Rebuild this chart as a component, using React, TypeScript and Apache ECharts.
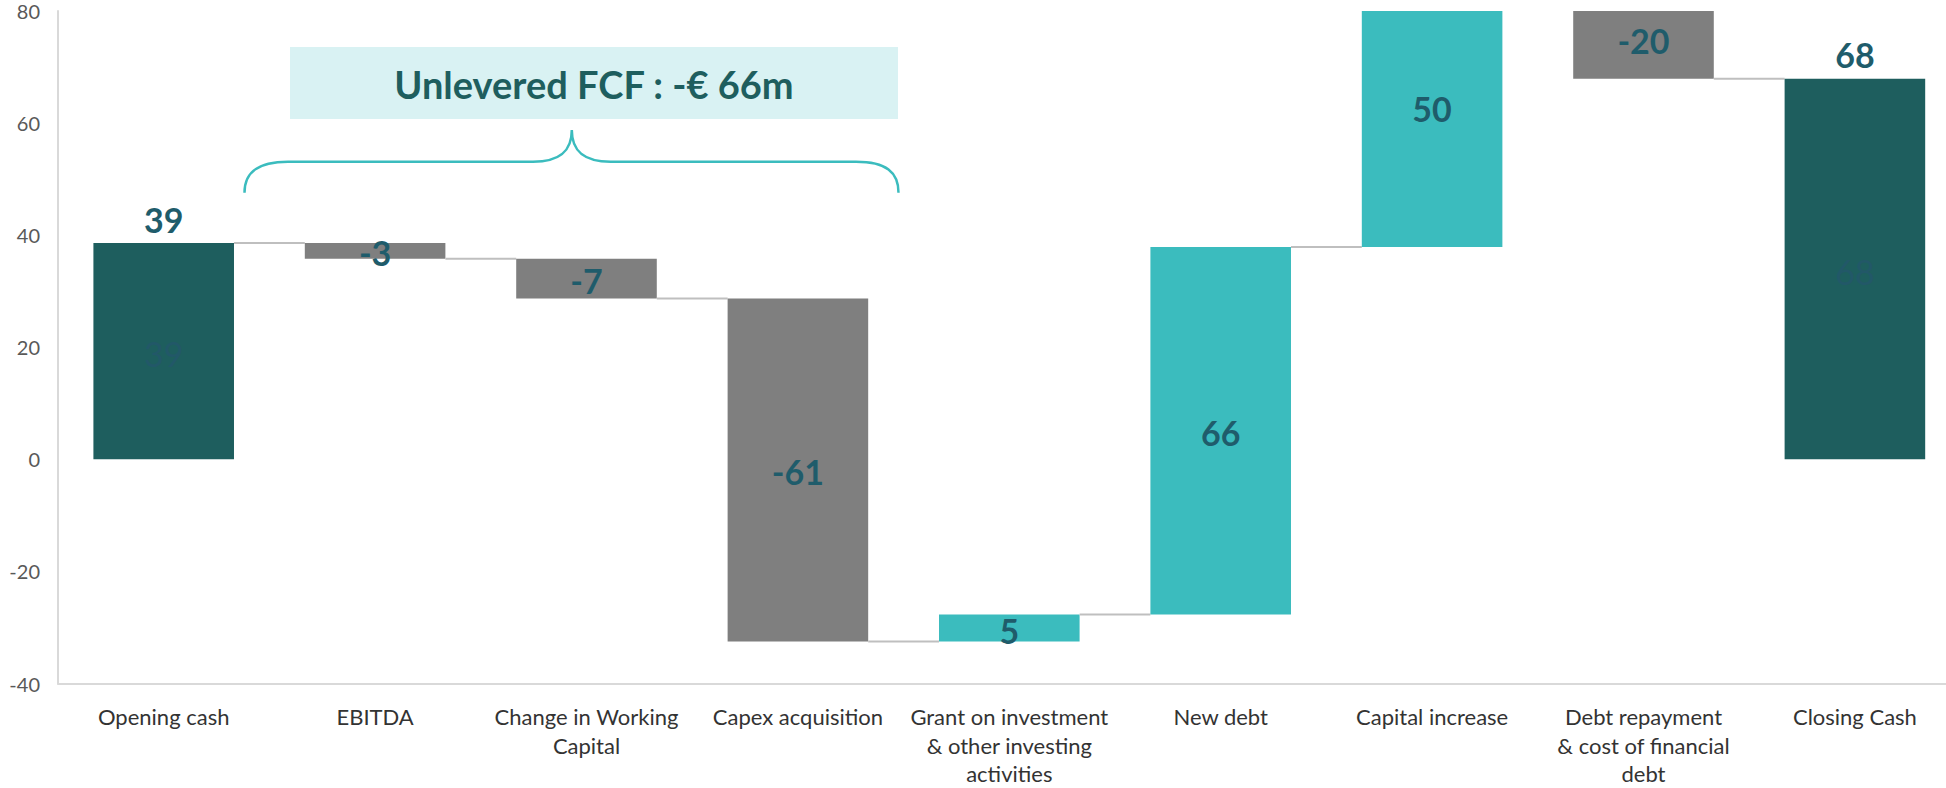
import React, { useEffect, useRef } from "react";
import * as echarts from "echarts";

const categories = [
  "Opening cash",
  "EBITDA",
  "Change in Working\nCapital",
  "Capex acquisition",
  "Grant on investment\n& other investing\nactivities",
  "New debt",
  "Capital increase",
  "Debt repayment\n& cost of financial\ndebt",
  "Closing Cash",
];
const openingCash = 38.6;
const movements = [-2.8, -7.1, -61.2, 4.8, 65.6, 50.0, -20.0];
const closingCash = 67.9;
const yTicks = { min: -40, max: 80, interval: 20 };
const titleText = "Unlevered FCF : -€ 66m";

const DARK = "#1E5E5E";
const GRAY = "#7F7F7F";
const TEAL = "#3BBCBE";
const LABEL = "#1F5C6B";
const FONT = "Lato, 'Open Sans', sans-serif";

const BRACE_D =
  "M244.5 192.7 C244.5 172 258 161.7 288 161.7 L533 161.7 C560 161.7 571.8 151 571.8 130 C571.8 151 583.6 161.7 610.6 161.7 L856 161.7 C886 161.7 898.5 172 898.5 192.7";

export default function App() {
  const ref = useRef<HTMLDivElement | null>(null);
  useEffect(() => {
    if (!ref.current) return;
    echarts.graphic.registerShape("brace", echarts.graphic.extendPath(BRACE_D, {}) as any);
    const chart = echarts.init(ref.current, undefined, { renderer: "svg" });

    // build waterfall items: [index, lo, hi, delta, kind, end]
    const items: any[] = [];
    items.push([0, 0, openingCash, openingCash, 0, openingCash]);
    let cum = openingCash;
    movements.forEach((d, k) => {
      const start = cum;
      cum = cum + d;
      items.push([k + 1, Math.min(start, cum), Math.max(start, cum), d, d < 0 ? 1 : 2, cum]);
    });
    items.push([categories.length - 1, 0, closingCash, closingCash, 0, closingCash]);

    const renderItem = (params: any, api: any) => {
      const i = api.value(0);
      const lo = api.value(1);
      const hi = api.value(2);
      const delta = api.value(3);
      const kind = api.value(4);
      const end = api.value(5);
      const cs = params.coordSys;
      const pTop = api.coord([i, hi]);
      const pBot = api.coord([i, lo]);
      const band = api.size([1, 0])[0];
      const bw = band * 0.665;
      const cx = pTop[0];
      const top = Math.max(pTop[1], cs.y);
      const bot = Math.min(pBot[1], cs.y + cs.height);
      const children: any[] = [];
      const color = kind === 0 ? DARK : kind === 1 ? GRAY : TEAL;
      children.push({
        type: "rect",
        shape: { x: cx - bw / 2, y: top, width: bw, height: Math.max(0, bot - top) },
        style: { fill: color },
      });
      const txt = String(Math.round(delta));
      if (kind === 0) {
        children.push({
          type: "text",
          style: {
            text: txt, x: cx, y: pTop[1] - 24, fill: LABEL, fontSize: 34, fontWeight: "bold",
            fontFamily: FONT, align: "center", verticalAlign: "middle",
          },
        });
        children.push({
          type: "text",
          style: {
            text: txt, x: cx, y: (pTop[1] + pBot[1]) / 2 + 2, fill: "#225868", fontSize: 34,
            fontFamily: FONT, align: "center", verticalAlign: "middle",
          },
        });
      } else {
        const ly = Math.max((pTop[1] + pBot[1]) / 2 + 2, cs.y + 29);
        children.push({
          type: "text",
          style: {
            text: txt, x: cx, y: ly, fill: LABEL, fontSize: 34, fontWeight: "bold",
            fontFamily: FONT, align: "center", verticalAlign: "middle",
          },
        });
      }
      if (i < categories.length - 1) {
        const pe = api.coord([i, end]);
        if (pe[1] >= cs.y && pe[1] <= cs.y + cs.height) {
          children.push({
            type: "line",
            shape: { x1: cx + bw / 2, y1: pe[1], x2: cx + band - bw / 2, y2: pe[1] },
            style: { stroke: "#BFBFBF", lineWidth: 2 },
          });
        }
      }
      return { type: "group", children };
    };

    chart.setOption({
      animation: false,
      backgroundColor: "#ffffff",
      grid: { left: 58, top: 11, width: 1902.6, height: 674, containLabel: false },
      xAxis: {
        type: "category",
        data: categories,
        axisLine: { onZero: false, lineStyle: { color: "#D9D9D9", width: 2 } },
        axisTick: { show: false },
        splitLine: { show: false },
        axisLabel: {
          interval: 0, margin: 19, fontSize: 22, lineHeight: 28.5, color: "#333333",
          fontFamily: FONT, align: "center",
        },
      },
      yAxis: {
        type: "value",
        min: yTicks.min,
        max: yTicks.max,
        interval: yTicks.interval,
        axisLine: { show: true, lineStyle: { color: "#D9D9D9", width: 2 } },
        axisTick: { show: false },
        splitLine: { show: false },
        axisLabel: { margin: 18, fontSize: 20, color: "#595959", fontFamily: FONT },
      },
      series: [
        {
          type: "custom",
          renderItem,
          data: items,
          encode: { x: 0, y: [1, 2] },
        },
      ],
      graphic: [
        {
          type: "rect",
          shape: { x: 290, y: 47, width: 608, height: 72 },
          style: { fill: "#D9F2F3" },
          z: 10,
        },
        {
          type: "text",
          x: 594,
          y: 84,
          style: {
            text: titleText, fill: DARK, fontSize: 38, fontWeight: "bold", fontFamily: FONT,
            align: "center", verticalAlign: "middle",
          },
          z: 11,
        },
        {
          type: "brace",
          x: 0,
          y: 0,
          style: { stroke: TEAL, lineWidth: 2.5, fill: "none" },
          z: 11,
        },
      ],
    });
    return () => chart.dispose();
  }, []);
  return (
    <div
      style={{
        position: "absolute", left: 0, top: 0, width: 1946, height: 788,
        overflow: "hidden", background: "#fff",
      }}
    >
      <div ref={ref} style={{ width: 1980, height: 788 }} />
    </div>
  );
}
